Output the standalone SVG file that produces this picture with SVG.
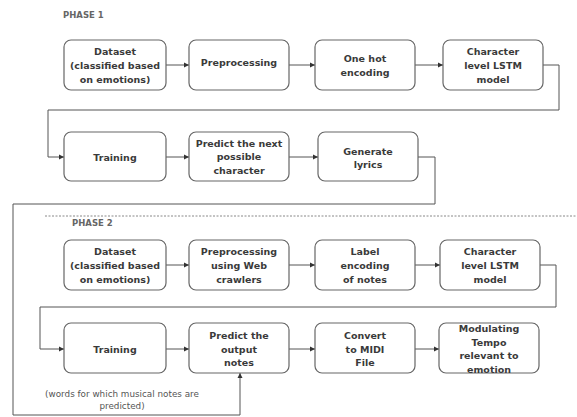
<svg xmlns="http://www.w3.org/2000/svg" width="577" height="417" viewBox="0 0 577 417">
<style>
.box{fill:#fff;stroke:#666;stroke-width:1.2}
.t{font-family:"DejaVu Sans",Verdana,sans-serif;font-size:9.5px;font-weight:bold;fill:#3a3a3a;text-anchor:middle}
.h{font-family:"DejaVu Sans",Verdana,sans-serif;font-size:8.5px;font-weight:bold;fill:#666}
.s{font-family:"DejaVu Sans",Verdana,sans-serif;font-size:8.8px;fill:#555;text-anchor:middle}
.c{fill:none;stroke:#555;stroke-width:1}
</style>
<defs>
<marker id="a" markerWidth="6" markerHeight="6" refX="5" refY="3" orient="auto" markerUnits="userSpaceOnUse"><path d="M0,0.5 L5,3 L0,5.5 Z" fill="#333"/></marker>
</defs>
<rect width="577" height="417" fill="#fff"/>
<text class="h" x="63" y="18">PHASE 1</text>
<text class="h" x="72" y="226">PHASE 2</text>
<line x1="45" y1="216" x2="577" y2="216" stroke="#888" stroke-width="1" stroke-dasharray="2,1.5"/>
<g id="connectors">
<path class="c" d="M166,65 H189" marker-end="url(#a)"/>
<path class="c" d="M289,65 H315" marker-end="url(#a)"/>
<path class="c" d="M415,65 H443" marker-end="url(#a)"/>
<path class="c" d="M543,65 H559 V110 H48 V157 H64" marker-end="url(#a)"/>
<path class="c" d="M166,157 H189" marker-end="url(#a)"/>
<path class="c" d="M289,157 H318" marker-end="url(#a)"/>
<path class="c" d="M418,157 H435 V204 H13 V415 H240 V373" marker-end="url(#a)"/>
<path class="c" d="M166,265 H189" marker-end="url(#a)"/>
<path class="c" d="M289,265 H315" marker-end="url(#a)"/>
<path class="c" d="M415,265 H440" marker-end="url(#a)"/>
<path class="c" d="M540,265 H556 V307 H40 V349 H64" marker-end="url(#a)"/>
<path class="c" d="M166,349 H189" marker-end="url(#a)"/>
<path class="c" d="M289,349 H315" marker-end="url(#a)"/>
<path class="c" d="M415,349 H439" marker-end="url(#a)"/>
</g>
<g id="p1-dataset"><rect class="box" x="64" y="40" width="102" height="50" rx="7"/><text class="t" x="115" y="55">Dataset</text><text class="t" x="115" y="69">(classified based</text><text class="t" x="115" y="83">on emotions)</text></g>
<g id="p1-pre"><rect class="box" x="189" y="40" width="100" height="50" rx="7"/><text class="t" x="239" y="66">Preprocessing</text></g>
<g id="p1-onehot"><rect class="box" x="315" y="40" width="100" height="50" rx="7"/><text class="t" x="365" y="62">One hot</text><text class="t" x="365" y="75.5">encoding</text></g>
<g id="p1-lstm"><rect class="box" x="443" y="40" width="100" height="50" rx="7"/><text class="t" x="493" y="55">Character</text><text class="t" x="493" y="69">level LSTM</text><text class="t" x="493" y="83">model</text></g>
<g id="p1-train"><rect class="box" x="64" y="132" width="102" height="49" rx="7"/><text class="t" x="115" y="160.5">Training</text></g>
<g id="p1-predict"><rect class="box" x="189" y="132" width="100" height="49" rx="7"/><text class="t" x="239" y="146.5">Predict the next</text><text class="t" x="239" y="160">possible</text><text class="t" x="239" y="173.5">character</text></g>
<g id="p1-gen"><rect class="box" x="318" y="132" width="100" height="49" rx="7"/><text class="t" x="368" y="154.5">Generate</text><text class="t" x="368" y="167.5">lyrics</text></g>
<g id="p2-dataset"><rect class="box" x="64" y="240" width="102" height="50" rx="7"/><text class="t" x="115" y="255">Dataset</text><text class="t" x="115" y="269">(classified based</text><text class="t" x="115" y="283">on emotions)</text></g>
<g id="p2-pre"><rect class="box" x="189" y="240" width="100" height="50" rx="7"/><text class="t" x="239" y="255">Preprocessing</text><text class="t" x="239" y="269">using Web</text><text class="t" x="239" y="283">crawlers</text></g>
<g id="p2-label"><rect class="box" x="315" y="240" width="100" height="50" rx="7"/><text class="t" x="365" y="255">Label</text><text class="t" x="365" y="269">encoding</text><text class="t" x="365" y="283">of notes</text></g>
<g id="p2-lstm"><rect class="box" x="440" y="240" width="100" height="50" rx="7"/><text class="t" x="490" y="255">Character</text><text class="t" x="490" y="269">level LSTM</text><text class="t" x="490" y="283">model</text></g>
<g id="p2-train"><rect class="box" x="64" y="323" width="102" height="50" rx="7"/><text class="t" x="115" y="352.5">Training</text></g>
<g id="p2-predict"><rect class="box" x="189" y="323" width="100" height="50" rx="7"/><text class="t" x="239" y="339">Predict the</text><text class="t" x="239" y="352.5">output</text><text class="t" x="239" y="366">notes</text></g>
<g id="p2-midi"><rect class="box" x="315" y="323" width="100" height="50" rx="7"/><text class="t" x="365" y="339">Convert</text><text class="t" x="365" y="352.5">to MIDI</text><text class="t" x="365" y="366">File</text></g>
<g id="p2-tempo"><rect class="box" x="439" y="323" width="100" height="50" rx="7"/><text class="t" x="489" y="332">Modulating</text><text class="t" x="489" y="345.5">Tempo</text><text class="t" x="489" y="359">relevant to</text><text class="t" x="489" y="372.5">emotion</text></g>
<text class="s" x="122" y="397">(words for which musical notes are</text>
<text class="s" x="122" y="408.5">predicted)</text>
</svg>
